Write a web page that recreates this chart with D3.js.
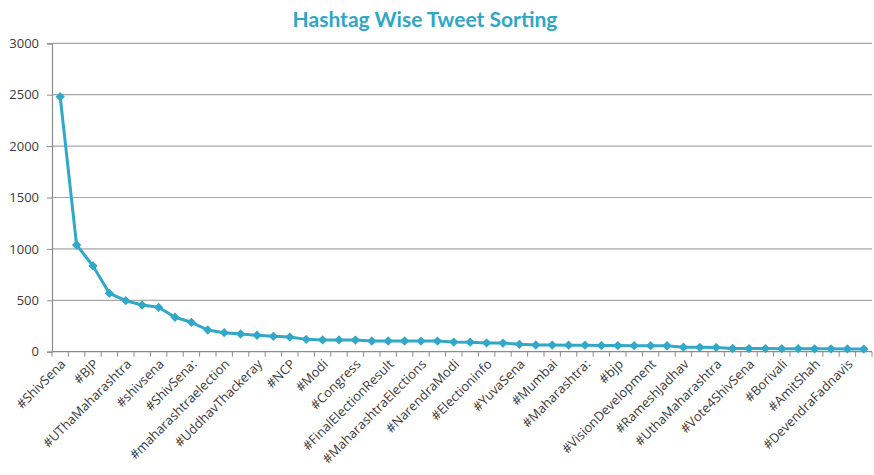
<!DOCTYPE html>
<html>
<head>
<meta charset="utf-8">
<script src="https://cdn.jsdelivr.net/npm/d3@7"></script>
<style>
  html, body { margin: 0; padding: 0; background: #fff; }
  svg { display: block; }
</style>
</head>
<body>
<svg id="chart" width="874" height="475"></svg>
<script>
const chartTitle = "Hashtag Wise Tweet Sorting";
// 50 hashtags sorted by count; only every other one is labelled in the chart
const tickLabels = ["#ShivSena", "#BJP", "#UThaMaharashtra", "#shivsena", "#ShivSena:",
  "#maharashtraelection", "#UddhavThackeray", "#NCP", "#Modi", "#Congress",
  "#FinalElectionResult", "#MaharashtraElections", "#NarendraModi", "#Electioninfo", "#YuvaSena",
  "#Mumbai", "#Maharashtra:", "#bjp", "#VisionDevelopment", "#RameshJadhav",
  "#UthaMaharashtra", "#Vote4ShivSena", "#Borivali", "#AmitShah", "#DevendraFadnavis"];
const values = [2480, 1038, 834, 568, 496, 454, 432, 335, 286, 211,
  185, 172, 160, 150, 142, 120, 114, 114, 113, 104,
  104, 104, 103, 103, 94, 93, 85, 84, 72, 65,
  64, 63, 63, 60, 60, 59, 59, 58, 44, 43,
  42, 31, 30, 30, 29, 29, 28, 28, 27, 26];
const yTicks = [0, 500, 1000, 1500, 2000, 2500, 3000];

const svg = d3.select("#chart");
const mLeft = 52, mRight = 872, mTop = 43.3, mBottom = 351.7;
const lineColor = "#31a8c8";
const textColor = "#3a3a3a";

const x = d3.scaleBand().domain(d3.range(values.length)).range([mLeft, mRight]);
const y = d3.scaleLinear().domain([0, 3000]).range([mBottom, mTop]);

// title
svg.append("text")
  .attr("x", 425).attr("y", 27)
  .attr("text-anchor", "middle")
  .style("font-family", "Lato, 'Open Sans', sans-serif")
  .style("font-weight", "bold")
  .style("font-size", "21px")
  .attr("fill", "#2fa6c6")
  .text(chartTitle);

// gridlines
svg.append("g").selectAll("line").data(yTicks.filter(d => d > 0)).join("line")
  .attr("x1", mLeft).attr("x2", mRight)
  .attr("y1", d => y(d)).attr("y2", d => y(d))
  .attr("stroke", "#a6a6a6").attr("stroke-width", 1.2);

// y axis
const yAxis = svg.append("g").attr("transform", `translate(${mLeft},0)`)
  .call(d3.axisLeft(y).tickValues(yTicks).tickSize(5).tickPadding(8).tickFormat(d3.format("d")));
yAxis.select(".domain").attr("stroke", "#8c8c8c").attr("stroke-width", 1.2);
yAxis.selectAll(".tick line").attr("stroke", "#8c8c8c");
yAxis.selectAll(".tick text")
  .style("font-family", "'Open Sans', sans-serif")
  .style("font-size", "13px")
  .attr("fill", textColor);

// x axis: ticks between categories
const xAxisG = svg.append("g").attr("transform", `translate(0,${mBottom})`);
xAxisG.append("line").attr("x1", mLeft).attr("x2", mRight).attr("y1", 0).attr("y2", 0)
  .attr("stroke", "#8c8c8c").attr("stroke-width", 1.2);
xAxisG.selectAll("line.tk").data(d3.range(values.length + 1)).join("line")
  .attr("class", "tk")
  .attr("x1", i => mLeft + i * x.step()).attr("x2", i => mLeft + i * x.step())
  .attr("y1", 0).attr("y2", 5)
  .attr("stroke", "#8c8c8c");
xAxisG.selectAll("text").data(tickLabels).join("text")
  .attr("transform", (d, i) => `translate(${x(i * 2) + x.bandwidth() / 2 + 3},${10}) rotate(-45)`)
  .attr("text-anchor", "end")
  .attr("dy", "0.35em")
  .style("font-family", "'Open Sans', sans-serif")
  .style("font-size", "13px")
  .attr("fill", textColor)
  .text(d => d);

// line
const cx = (d, i) => x(i) + x.bandwidth() / 2;
svg.append("path").datum(values)
  .attr("fill", "none").attr("stroke", lineColor).attr("stroke-width", 3)
  .attr("stroke-linejoin", "round")
  .attr("d", d3.line().x(cx).y(d => y(d)));

// diamond markers
svg.append("g").selectAll("path").data(values).join("path")
  .attr("transform", (d, i) => `translate(${cx(d, i)},${y(d)})`)
  .attr("d", d3.symbol().type(d3.symbolDiamond2).size(55))
  .attr("fill", lineColor);
</script>
</body>
</html>
